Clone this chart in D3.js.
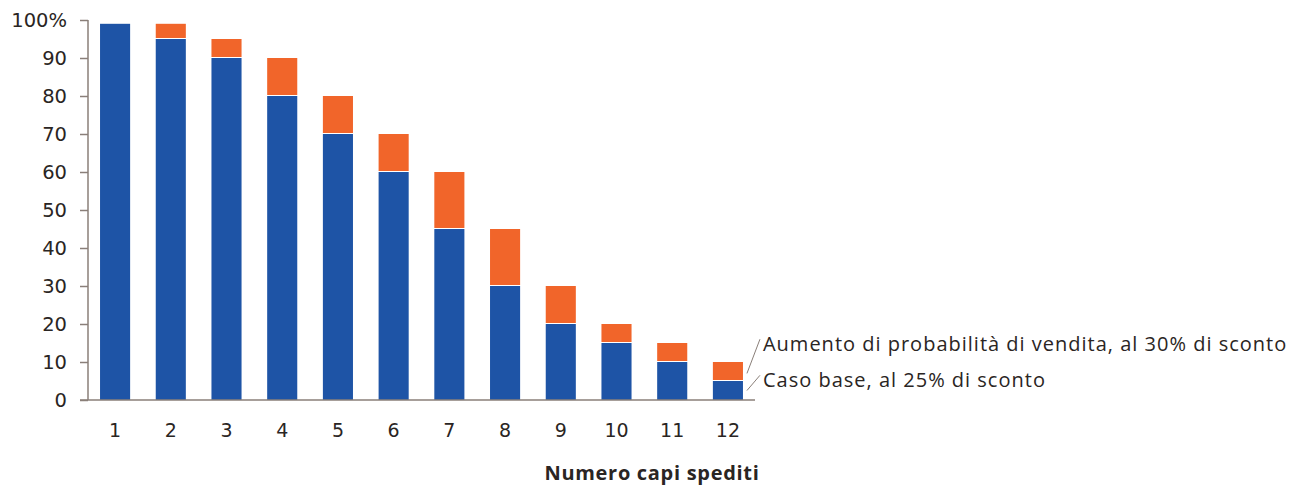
<!DOCTYPE html>
<html>
<head>
<meta charset="utf-8">
<script src="https://cdn.jsdelivr.net/npm/d3@7"></script>
<style>
  body { margin: 0; background: #fff; }
  svg { display: block; }
</style>
</head>
<body>
<svg id="chart" width="1291" height="487"></svg>
<script>
// data
const categories = ['1', '2', '3', '4', '5', '6', '7', '8', '9', '10', '11', '12'];
const baseCase = [99, 95, 90, 80, 70, 60, 45, 30, 20, 15, 10, 5];
const increase = [0, 4, 5, 10, 10, 10, 15, 15, 10, 5, 5, 5];
const yTicks = [0, 10, 20, 30, 40, 50, 60, 70, 80, 90, 100];
const seriesLabels = ['Caso base, al 25% di sconto', 'Aumento di probabilità di vendita, al 30% di sconto'];
const xTitle = 'Numero capi spediti';

const blue = '#1e54a6';
const orange = '#f1652a';
const axisColor = '#8a7f79';
const textColor = '#2a2523';

const svg = d3.select('#chart');

const x = d3.scaleBand()
  .domain(categories)
  .range([88, 755])
  .paddingInner(0.46)
  .paddingOuter(0.216);

const y = d3.scaleLinear()
  .domain([0, 100])
  .range([400, 20]);

const rows = categories.map((c, i) => ({ cat: c, base: baseCase[i], inc: increase[i] }));

// bars: blue base, orange increase on top
const g = svg.append('g');
g.selectAll('rect.base')
  .data(rows)
  .enter().append('rect')
  .attr('class', 'base')
  .attr('x', d => x(d.cat))
  .attr('width', x.bandwidth())
  .attr('y', d => y(d.base))
  .attr('height', d => y(0) - y(d.base))
  .attr('fill', blue);

g.selectAll('rect.inc')
  .data(rows.filter(d => d.inc > 0))
  .enter().append('rect')
  .attr('class', 'inc')
  .attr('x', d => x(d.cat))
  .attr('width', x.bandwidth())
  .attr('y', d => y(d.base + d.inc))
  .attr('height', d => y(d.base) - y(d.base + d.inc) - 1)
  .attr('fill', orange);

// y axis
const yAxis = svg.append('g')
  .attr('transform', 'translate(88,0)')
  .call(d3.axisLeft(y).tickValues(yTicks).tickSize(8).tickPadding(13)
    .tickFormat(d => d === 100 ? '100%' : d));
yAxis.select('.domain').attr('stroke', axisColor).attr('stroke-width', 1.5)
  .attr('d', `M0,${y(100)}V${y(0)}`);
yAxis.selectAll('.tick line').attr('stroke', axisColor).attr('stroke-width', 1.5);
yAxis.selectAll('.tick text')
  .attr('fill', textColor)
  .style('font-family', '"DejaVu Sans", Verdana, sans-serif')
  .style('font-size', '19.5px');

// x axis (line only, no ticks)
const xAxis = svg.append('g')
  .attr('transform', `translate(0,${y(0)})`)
  .call(d3.axisBottom(x).tickSize(0).tickPadding(24));
xAxis.select('.domain').attr('stroke', axisColor).attr('stroke-width', 1.5)
  .attr('d', 'M80,0H755');
xAxis.selectAll('.tick text')
  .attr('fill', textColor)
  .style('font-family', '"DejaVu Sans", Verdana, sans-serif')
  .style('font-size', '19px');

// x title
svg.append('text')
  .attr('x', 652)
  .attr('y', 480)
  .attr('text-anchor', 'middle')
  .attr('fill', textColor)
  .style('font-family', '"Open Sans", "Noto Sans", sans-serif')
  .style('font-weight', 'bold')
  .style('font-size', '20px')
  .style('letter-spacing', '0.7px')
  .text(xTitle);

// direct labels for last bar
const last = rows[rows.length - 1];
const lx0 = x(last.cat) + x.bandwidth() + 4;
const lx1 = lx0 + 13;
const labels = [
  { text: seriesLabels[1], from: last.base + last.inc * 0.4, to: 16 },
  { text: seriesLabels[0], from: last.base * 0.5, to: 6.5 }
];
labels.forEach(l => {
  svg.append('line')
    .attr('x1', lx0).attr('y1', y(l.from))
    .attr('x2', lx1).attr('y2', y(l.to))
    .attr('stroke', axisColor).attr('stroke-width', 1);
  svg.append('text')
    .attr('x', lx1 + 3)
    .attr('y', y(l.to) + 12)
    .attr('fill', textColor)
    .style('font-family', '"Open Sans", "Noto Sans", sans-serif')
    .style('font-size', '20px')
    .style('letter-spacing', '1px')
    .text(l.text);
});
</script>
</body>
</html>
